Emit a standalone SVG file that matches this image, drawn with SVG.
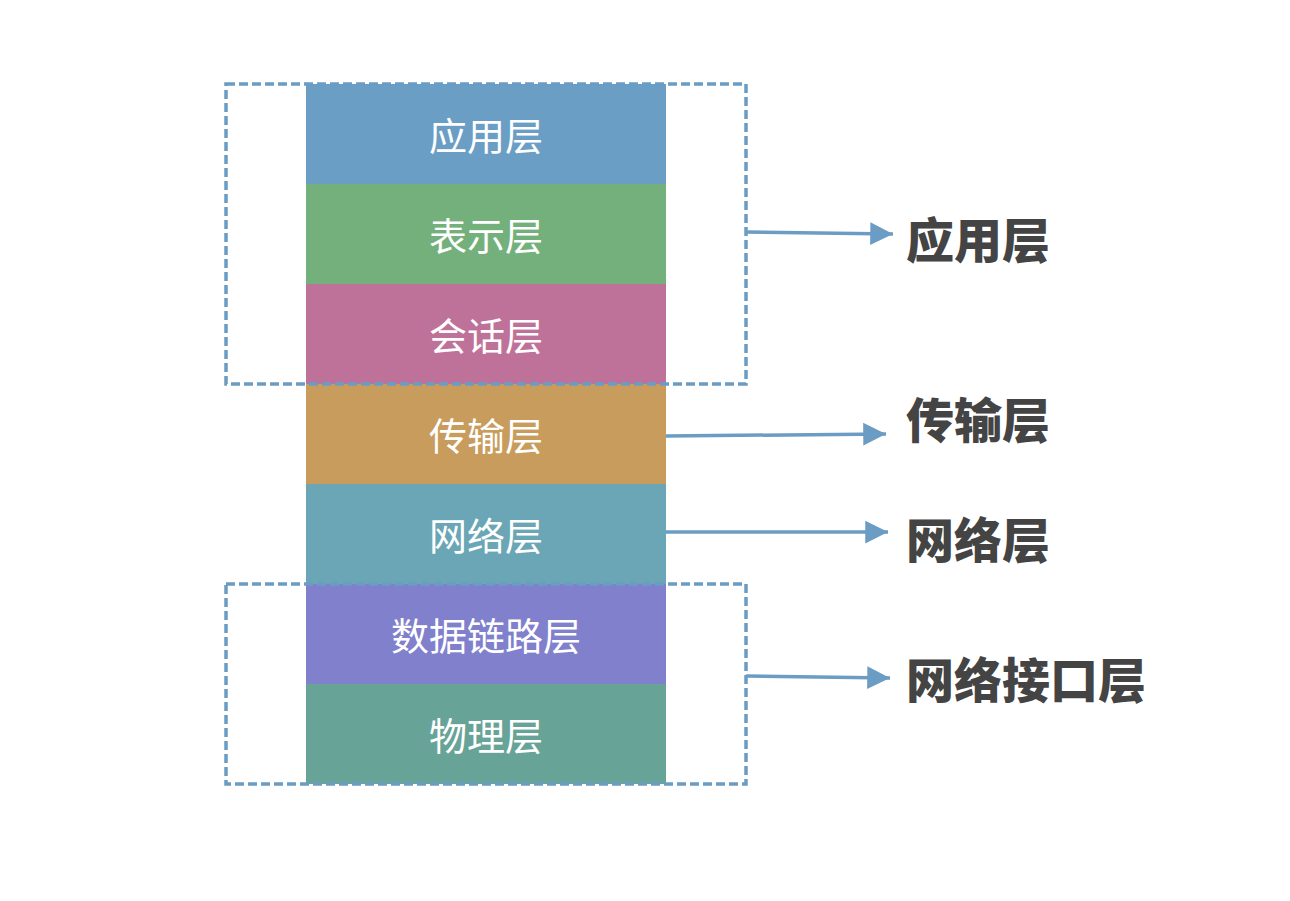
<svg xmlns="http://www.w3.org/2000/svg" width="1290" height="901" viewBox="0 0 1290 901">
<style>
.layer text{font-family:"Noto Sans CJK SC","Noto Sans",sans-serif;font-size:38px;fill:#ffffff;text-anchor:middle;}
.lbl{font-family:"Noto Sans CJK SC","Noto Sans",sans-serif;font-size:48px;font-weight:900;fill:#444444;}
.dash{fill:none;stroke:#6a9cc4;stroke-width:3.5;stroke-dasharray:9 4;}
.conn{stroke:#6a9cc4;stroke-width:3.5;fill:none;}
</style>
<defs>
<marker id="ah" viewBox="0 0 10 10" refX="10" refY="5" markerWidth="6.5" markerHeight="7.5" markerUnits="strokeWidth" orient="auto">
<path d="M0,0 L10,5 L0,10 Z" fill="#6a9cc4"/>
</marker>
</defs>
<rect width="1290" height="901" fill="#ffffff"/>
<g id="layer-app" class="layer"><rect x="306" y="84" width="360" height="100" fill="#6a9ec5"/><text x="486" y="150">应用层</text></g>
<g id="layer-pres" class="layer"><rect x="306" y="184" width="360" height="100" fill="#74b07b"/><text x="486" y="250">表示层</text></g>
<g id="layer-sess" class="layer"><rect x="306" y="284" width="360" height="100" fill="#bf7299"/><text x="486" y="350">会话层</text></g>
<g id="layer-trans" class="layer"><rect x="306" y="384" width="360" height="100" fill="#c89c5c"/><text x="486" y="450">传输层</text></g>
<g id="layer-net" class="layer"><rect x="306" y="484" width="360" height="100" fill="#6aa6b5"/><text x="486" y="550">网络层</text></g>
<g id="layer-link" class="layer"><rect x="306" y="584" width="360" height="100" fill="#8080cc"/><text x="486" y="650">数据链路层</text></g>
<g id="layer-phys" class="layer"><rect x="306" y="684" width="360" height="100" fill="#68a398"/><text x="486" y="750">物理层</text></g>
<g id="group-top"><rect class="dash" x="226" y="84" width="520" height="300"/></g>
<g id="group-bottom"><rect class="dash" x="226" y="584" width="520" height="200"/></g>
<g id="connectors">
<line class="conn" x1="746" y1="232" x2="893" y2="234" marker-end="url(#ah)"/>
<line class="conn" x1="666" y1="436" x2="886" y2="434" marker-end="url(#ah)"/>
<line class="conn" x1="666" y1="532" x2="888" y2="532" marker-end="url(#ah)"/>
<line class="conn" x1="746" y1="676" x2="890" y2="678" marker-end="url(#ah)"/>
</g>
<g id="label-app"><text class="lbl" x="906" y="258">应用层</text></g>
<g id="label-trans"><text class="lbl" x="906" y="438">传输层</text></g>
<g id="label-net"><text class="lbl" x="906" y="558">网络层</text></g>
<g id="label-iface"><text class="lbl" x="906" y="698">网络接口层</text></g>
</svg>
